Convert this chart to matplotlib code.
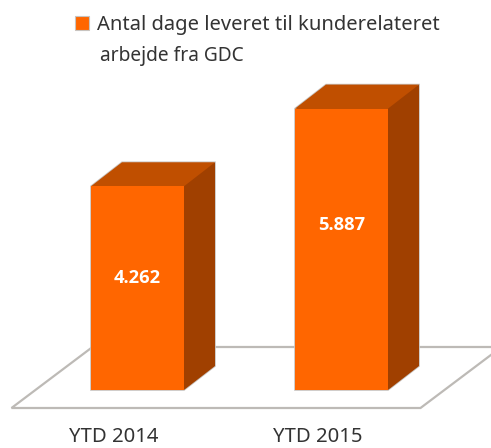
import matplotlib.pyplot as plt
from matplotlib.patches import Rectangle

categories = ["YTD 2014", "YTD 2015"]
values = [4262, 5887]
value_labels = ["4.262", "5.887"]
label_heights = [2343, 3452]
legend_lines = ["Antal dage leveret til kunderelateret", "arbejde fra GDC"]

W, H = 491, 448
FRONT = "#ff6600"
TOP = "#c04f00"
SIDE = "#a04000"
EDGE = "#c8c4c0"
FLOOR = "#bdbab6"
TEXT = "#333333"

# pixels per data unit on both axes
PX_X = 204.0
PX_Y = 0.0478
BAR_W = 93 / PX_X
DX = 31 / PX_X
DY = 24 / PX_Y
TICK_SHIFT = 24 / PX_X

plt.rcParams["font.family"] = ["Noto Sans", "DejaVu Sans"]

fig = plt.figure(figsize=(W / 100, H / 100), dpi=100)
ax = fig.add_axes([0, 28 / H, 1, 1 - 28 / H])
ax.set_xlim(-137.5 / PX_X, (W - 137.5) / PX_X)
ax.set_ylim(-30 / PX_Y, 390 / PX_Y)

for s in ax.spines.values():
    s.set_visible(False)
ax.set_yticks([])
ax.set_xticks([i - TICK_SHIFT for i in range(len(categories))])
ax.set_xticklabels(categories, fontsize=14.6, color=TEXT)
ax.tick_params(axis="x", length=0, pad=5)

# floor
fx0, fx1 = -126 / PX_X, 283 / PX_X
fy0, fy1 = -18 / PX_Y, 43 / PX_Y
skew = 81 / PX_X
ax.plot(
    [fx0 + skew, fx1 + 1.1 * skew],
    [fy1, fy1],
    color=FLOOR, lw=1.6, zorder=1,
)
ax.plot(
    [fx0 + skew, fx0, fx1, fx1 + skew],
    [fy1, fy0, fy0, fy1],
    color=FLOOR, lw=1.6, zorder=1, solid_joinstyle="miter",
)

for i, v in enumerate(values):
    l = i - BAR_W / 2
    r = i + BAR_W / 2
    # grey outline first, faces on top without their own edge
    ax.fill([l, r, r + DX, r + DX, l + DX, l], [0, 0, DY, v + DY, v + DY, v],
            color=TOP, ec=EDGE, lw=1.2, zorder=2)
    ax.fill([l, r, r + DX, l + DX], [v, v, v + DY, v + DY],
            color=TOP, lw=0, zorder=3)
    ax.fill([r, r + DX, r + DX, r], [0, DY, v + DY, v],
            color=SIDE, lw=0, zorder=3)
    ax.bar(i, v, width=BAR_W, color=FRONT, lw=0, zorder=4)
    ax.text(i, label_heights[i], value_labels[i], color="white", fontsize=13.2,
            family=["Open Sans", "DejaVu Sans"], fontweight="bold",
            ha="center", va="center", zorder=5)

# legend
fig.patches.append(Rectangle((75 / W, 1 - 30 / H), 14 / W, 14 / H,
                             transform=fig.transFigure, fc=FRONT, ec=EDGE, lw=0.8))
fig.text(97 / W, 1 - 30 / H, legend_lines[0], fontsize=14.5, color=TEXT, va="baseline")
fig.text(100 / W, 1 - 61 / H, legend_lines[1], fontsize=13.8, color=TEXT, va="baseline")

fig.savefig("out.png", dpi=100)
